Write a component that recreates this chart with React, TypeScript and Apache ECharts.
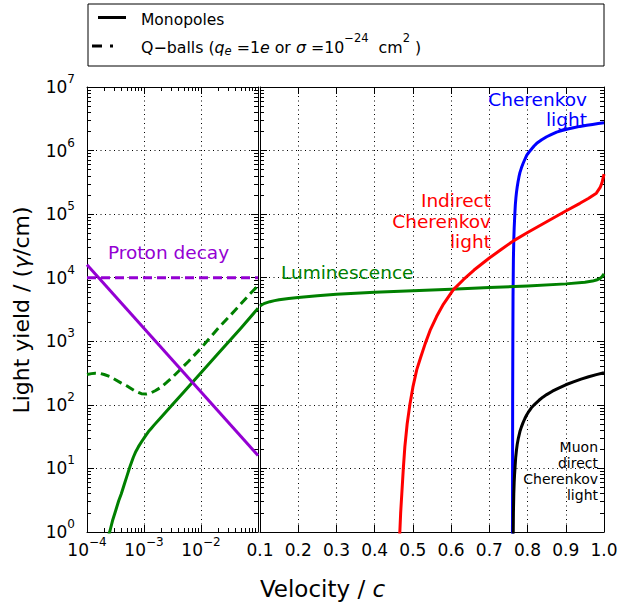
import React, { useEffect, useRef } from 'react';
import * as echarts from 'echarts';

// ---------- Data ----------
// Left panel: velocity 1e-4 … 1e-1 (log), light yield (log)
const monoLumLeftV = [2.3e-4, 2.5e-4, 2.8e-4, 3.2e-4, 3.6e-4, 4e-4, 4.5e-4, 5e-4, 5.7e-4, 6.5e-4, 7.2e-4, 8e-4, 9e-4, 1e-3, 1.1e-3, 1.2e-3, 1.35e-3, 1.5e-3, 2e-3, 3e-3, 5e-3, 1e-2, 2e-2, 5e-2, 1e-1];
const monoLumLeftY = [0.8, 1.0, 1.5, 2.2, 3.1, 4, 5.6, 7.5, 10.8, 15, 18.5, 22, 26, 30, 34, 38, 43, 48, 64, 96, 160, 320, 640, 1600, 3300];

const qballLumV = [1e-4, 1.2e-4, 1.4e-4, 1.7e-4, 2e-4, 2.5e-4, 3e-4, 4e-4, 5.2e-4, 7e-4, 9e-4, 1.1e-3, 1.3e-3, 1.6e-3, 2e-3, 2.5e-3, 3e-3, 4e-3, 6e-3, 1e-2, 2e-2, 4e-2, 7e-2, 1e-1];
const qballLumY = [300, 310, 315, 312, 300, 280, 255, 220, 195, 165, 150, 148, 153, 168, 190, 225, 260, 335, 480, 780, 1600, 3100, 5400, 7500];

const protonMonoV = [1e-4, 1e-1];
const protonMonoY = [1.6e4, 16];
const protonQballV = [1e-4, 1e-1];
const protonQballY = [1e4, 1e4];

// Right panel: velocity 0.1 … 1.0 (linear)
const lumRightV = [0.1, 0.105, 0.11, 0.118, 0.126, 0.138, 0.15, 0.175, 0.2, 0.25, 0.3, 0.4, 0.5, 0.6, 0.7, 0.8, 0.9, 0.95, 0.97, 0.98, 0.99, 0.995, 1.0];
const lumRightY = [3600, 3760, 3900, 4060, 4200, 4360, 4500, 4720, 4900, 5220, 5500, 5900, 6250, 6600, 7000, 7400, 8000, 8500, 8850, 9200, 9800, 10400, 11500];

const indirectV = [0.4655, 0.468, 0.471, 0.475, 0.479, 0.485, 0.492, 0.5, 0.51, 0.52, 0.532, 0.545, 0.562, 0.58, 0.606, 0.632, 0.66, 0.7, 0.73, 0.763, 0.8, 0.85, 0.9, 0.937, 0.96, 0.98, 0.99, 0.995, 1.0];
const indirectY = [0.9, 2, 4, 10, 22, 50, 100, 190, 355, 550, 910, 1480, 2450, 3850, 6500, 9300, 13200, 20400, 27500, 38000, 51300, 76000, 112000, 148000, 178000, 214000, 263000, 316000, 427000];

const cherenkovV = [0.7605, 0.761, 0.7615, 0.762, 0.763, 0.764, 0.765, 0.7665, 0.768, 0.7695, 0.771, 0.773, 0.775, 0.7775, 0.78, 0.784, 0.788, 0.793, 0.798, 0.804, 0.81, 0.817, 0.824, 0.837, 0.85, 0.863, 0.876, 0.89, 0.905, 0.92, 0.937, 0.955, 0.97, 0.985, 1.0];
const cherenkovY = [0.9, 100, 1000, 5000, 20000, 40000, 60000, 95000, 140000, 180000, 220000, 270000, 320000, 385000, 450000, 535000, 620000, 730000, 850000, 950000, 1050000, 1180000, 1300000, 1480000, 1650000, 1800000, 1950000, 2070000, 2180000, 2290000, 2400000, 2500000, 2580000, 2670000, 2750000];

const muonV = [0.7625, 0.763, 0.764, 0.765, 0.766, 0.7675, 0.769, 0.771, 0.773, 0.776, 0.78, 0.784, 0.788, 0.793, 0.798, 0.804, 0.81, 0.82, 0.83, 0.84, 0.85, 0.865, 0.88, 0.9, 0.92, 0.94, 0.96, 0.98, 1.0];
const muonY = [0.9, 2, 4, 6, 8, 11, 15, 19.5, 24, 30, 38, 45, 52, 61, 70, 80, 90, 104, 118, 132, 145, 164, 182, 207, 230, 254, 277, 299, 320];

const rightTickLabels = ['0.1', '0.2', '0.3', '0.4', '0.5', '0.6', '0.7', '0.8', '0.9', '1.0'];

// ---------- Styling ----------
const FONT = 'DejaVu Sans';
const GREEN = '#008000';
const PURPLE = '#9400D3';

const zip = (xs: number[], ys: number[]) => xs.map((x, i) => [x, ys[i]]);

const tickRich = {
  b: { fontSize: 17, lineHeight: 28, verticalAlign: 'middle', color: '#000', fontFamily: FONT },
  s: { fontSize: 12, lineHeight: 12, verticalAlign: 'top', color: '#000', fontFamily: FONT },
};

const axisLine = { show: true, onZero: false, lineStyle: { color: '#000', width: 1 } };
const axisTick = { show: true, inside: true, length: 7, lineStyle: { color: '#000', width: 1 } };
const logMinor = { show: true, splitNumber: 9, length: 4, lineStyle: { color: '#000', width: 1 } };
const grid = { show: true, lineStyle: { color: '#000', width: 1, type: [1, 3.5] } };

const expOf = (v: number) => Math.round(Math.log10(v));
const sup = (e: number) => (e < 0 ? '\u2212' + String(-e) : String(e));

export default function App() {
  const ref = useRef<HTMLDivElement>(null);

  useEffect(() => {
    if (!ref.current) return;
    const chart = echarts.init(ref.current, undefined, { renderer: 'svg' });

    const line = (name: string, data: number[][], color: string, xi: number, dashed = false) => ({
      name,
      type: 'line',
      xAxisIndex: xi,
      yAxisIndex: xi,
      data,
      symbol: 'none',
      showSymbol: false,
      smooth: false,
      clip: true,
      lineStyle: { color, width: 3, type: dashed ? [9, 5] : 'solid', join: 'round' },
      z: 3,
    });

    const option: any = {
      animation: false,
      textStyle: { fontFamily: FONT },
      grid: [
        { left: 87, top: 87, width: 171, height: 445, show: false },
        { left: 260, top: 87, width: 344, height: 445, show: false },
      ],
      xAxis: [
        {
          gridIndex: 0, type: 'log', logBase: 10, min: 1e-4, max: 1e-1, position: 'bottom',
          axisLine, axisTick, minorTick: logMinor, splitLine: grid,
          axisLabel: {
            margin: 4, rich: tickRich,
            formatter: (v: number) => {
              const e = expOf(v);
              return e === -1 ? '' : `{b|10}{s|${sup(e)}}`;
            },
          },
        },
        {
          gridIndex: 0, type: 'log', logBase: 10, min: 1e-4, max: 1e-1, position: 'top',
          axisLine, axisTick, minorTick: logMinor, splitLine: { show: false }, axisLabel: { show: false },
        },
        {
          gridIndex: 1, type: 'value', min: 0.1, max: 1.0, interval: 0.1, position: 'bottom',
          axisLine, axisTick, splitLine: grid,
          axisLabel: {
            margin: 4, rich: tickRich, showMinLabel: true, showMaxLabel: true,
            formatter: (v: number) => {
              const idx = Math.round(v * 10) - 1;
              return `{b|${rightTickLabels[idx] ?? ''}}`;
            },
          },
        },
        {
          gridIndex: 1, type: 'value', min: 0.1, max: 1.0, interval: 0.1, position: 'top',
          axisLine, axisTick, splitLine: { show: false }, axisLabel: { show: false },
        },
      ],
      yAxis: [
        {
          gridIndex: 0, type: 'log', logBase: 10, min: 1, max: 1e7, position: 'left',
          axisLine, axisTick, minorTick: logMinor, splitLine: grid,
          axisLabel: {
            margin: 12, rich: tickRich,
            formatter: (v: number) => `{b|10}{s|${sup(expOf(v))}}`,
          },
        },
        {
          gridIndex: 0, type: 'log', logBase: 10, min: 1, max: 1e7, position: 'right',
          axisLine, axisTick, minorTick: logMinor, splitLine: { show: false }, axisLabel: { show: false },
        },
        {
          gridIndex: 1, type: 'log', logBase: 10, min: 1, max: 1e7, position: 'left',
          axisLine, axisTick, minorTick: logMinor, splitLine: grid, axisLabel: { show: false },
        },
        {
          gridIndex: 1, type: 'log', logBase: 10, min: 1, max: 1e7, position: 'right',
          axisLine, axisTick, minorTick: logMinor, splitLine: { show: false }, axisLabel: { show: false },
        },
      ],
      series: [
        line('Q-ball luminescence', zip(qballLumV, qballLumY), GREEN, 0, true),
        line('Monopole luminescence (low β)', zip(monoLumLeftV, monoLumLeftY), GREEN, 0),
        line('Proton decay (Q-balls)', zip(protonQballV, protonQballY), PURPLE, 0, true),
        line('Proton decay (monopoles)', zip(protonMonoV, protonMonoY), PURPLE, 0),
        line('Cherenkov light', zip(cherenkovV, cherenkovY), '#0000FF', 2),
        line('Muon direct Cherenkov light', zip(muonV, muonY), '#000000', 2),
        line('Luminescence', zip(lumRightV, lumRightY), GREEN, 2),
        line('Indirect Cherenkov light', zip(indirectV, indirectY), '#FF0000', 2),
      ],
      graphic: [
        // legend box
        { type: 'rect', shape: { x: 88, y: 4, width: 516, height: 62 }, style: { fill: '#fff', stroke: '#000', lineWidth: 1 }, z: 10 },
        { type: 'line', shape: { x1: 98, y1: 17.5, x2: 126, y2: 17.5 }, style: { stroke: '#000', lineWidth: 3 }, z: 11 },
        { type: 'line', shape: { x1: 92, y1: 46, x2: 113, y2: 46 }, style: { stroke: '#000', lineWidth: 3, lineDash: [10, 8] }, z: 11 },
        {
          type: 'text', x: 141, y: 19.6, z: 11,
          style: { text: 'Monopoles', fill: '#000', fontSize: 15.5, fontFamily: FONT, align: 'left', verticalAlign: 'middle' },
        },
        {
          type: 'text', x: 141, y: 47.3, z: 11,
          style: {
            text: '{n|Q\u2212balls (}{i|q}{sub|e}{n| =1}{i|e}{n| or }{i|\u03c3}{n| =10}{sup|\u221224}{n|  cm}{sup|2}{n| )}',
            align: 'left', verticalAlign: 'middle', fill: '#000',
            rich: {
              n: { fontSize: 15.8, lineHeight: 30, fontFamily: FONT, fill: '#000', verticalAlign: 'middle' },
              i: { fontSize: 15.8, lineHeight: 30, fontFamily: FONT, fontStyle: 'italic', fill: '#000', verticalAlign: 'middle' },
              sub: { fontSize: 11.5, lineHeight: 11, fontFamily: FONT, fontStyle: 'italic', fill: '#000', verticalAlign: 'bottom', padding: [0, 0, 5, 0] },
              sup: { fontSize: 11.5, lineHeight: 11, fontFamily: FONT, fill: '#000', verticalAlign: 'top' },
            },
          },
        },
        // annotations
        {
          type: 'text', x: 108, y: 252.6, z: 12,
          style: { text: 'Proton decay', fill: PURPLE, fontSize: 18.5, fontFamily: FONT, align: 'left', verticalAlign: 'middle' },
        },
        {
          type: 'text', x: 281, y: 272.5, z: 12,
          style: { text: 'Luminescence', fill: GREEN, fontSize: 18.5, fontFamily: FONT, align: 'left', verticalAlign: 'middle' },
        },
        {
          type: 'text', x: 587, y: 89.5, z: 12,
          style: { text: 'Cherenkov\nlight', fill: '#0000FF', fontSize: 18.5, lineHeight: 20, fontFamily: FONT, align: 'right', verticalAlign: 'top' },
        },
        {
          type: 'text', x: 491, y: 190.3, z: 12,
          style: { text: 'Indirect\nCherenkov\nlight', fill: '#FF0000', fontSize: 18.5, lineHeight: 20.5, fontFamily: FONT, align: 'right', verticalAlign: 'top' },
        },
        {
          type: 'text', x: 598, y: 438.5, z: 12,
          style: { text: 'Muon\ndirect\nCherenkov\nlight', fill: '#000', fontSize: 14, lineHeight: 16, fontFamily: FONT, align: 'right', verticalAlign: 'top' },
        },
        // axis titles
        {
          type: 'text', x: 21, y: 310, rotation: Math.PI / 2, z: 12,
          style: {
            text: '{a|Light yield / (}{g|\u03b3}{a|/cm)}', align: 'center', verticalAlign: 'middle',
            rich: {
              a: { fontSize: 22, fontFamily: FONT, fill: '#000' },
              g: { fontSize: 22, fontFamily: FONT, fontStyle: 'italic', fill: '#000' },
            },
          },
        },
        {
          type: 'text', x: 322.5, y: 589, z: 12,
          style: {
            text: '{a|Velocity / }{i|c}', align: 'center', verticalAlign: 'middle',
            rich: {
              a: { fontSize: 23, fontFamily: FONT, fill: '#000' },
              i: { fontSize: 23, fontFamily: FONT, fontStyle: 'italic', fill: '#000' },
            },
          },
        },
      ],
    };

    chart.setOption(option);
    return () => chart.dispose();
  }, []);

  return <div ref={ref} style={{ position: 'absolute', left: 0, top: 0, width: 621, height: 605, background: '#fff' }} />;
}
